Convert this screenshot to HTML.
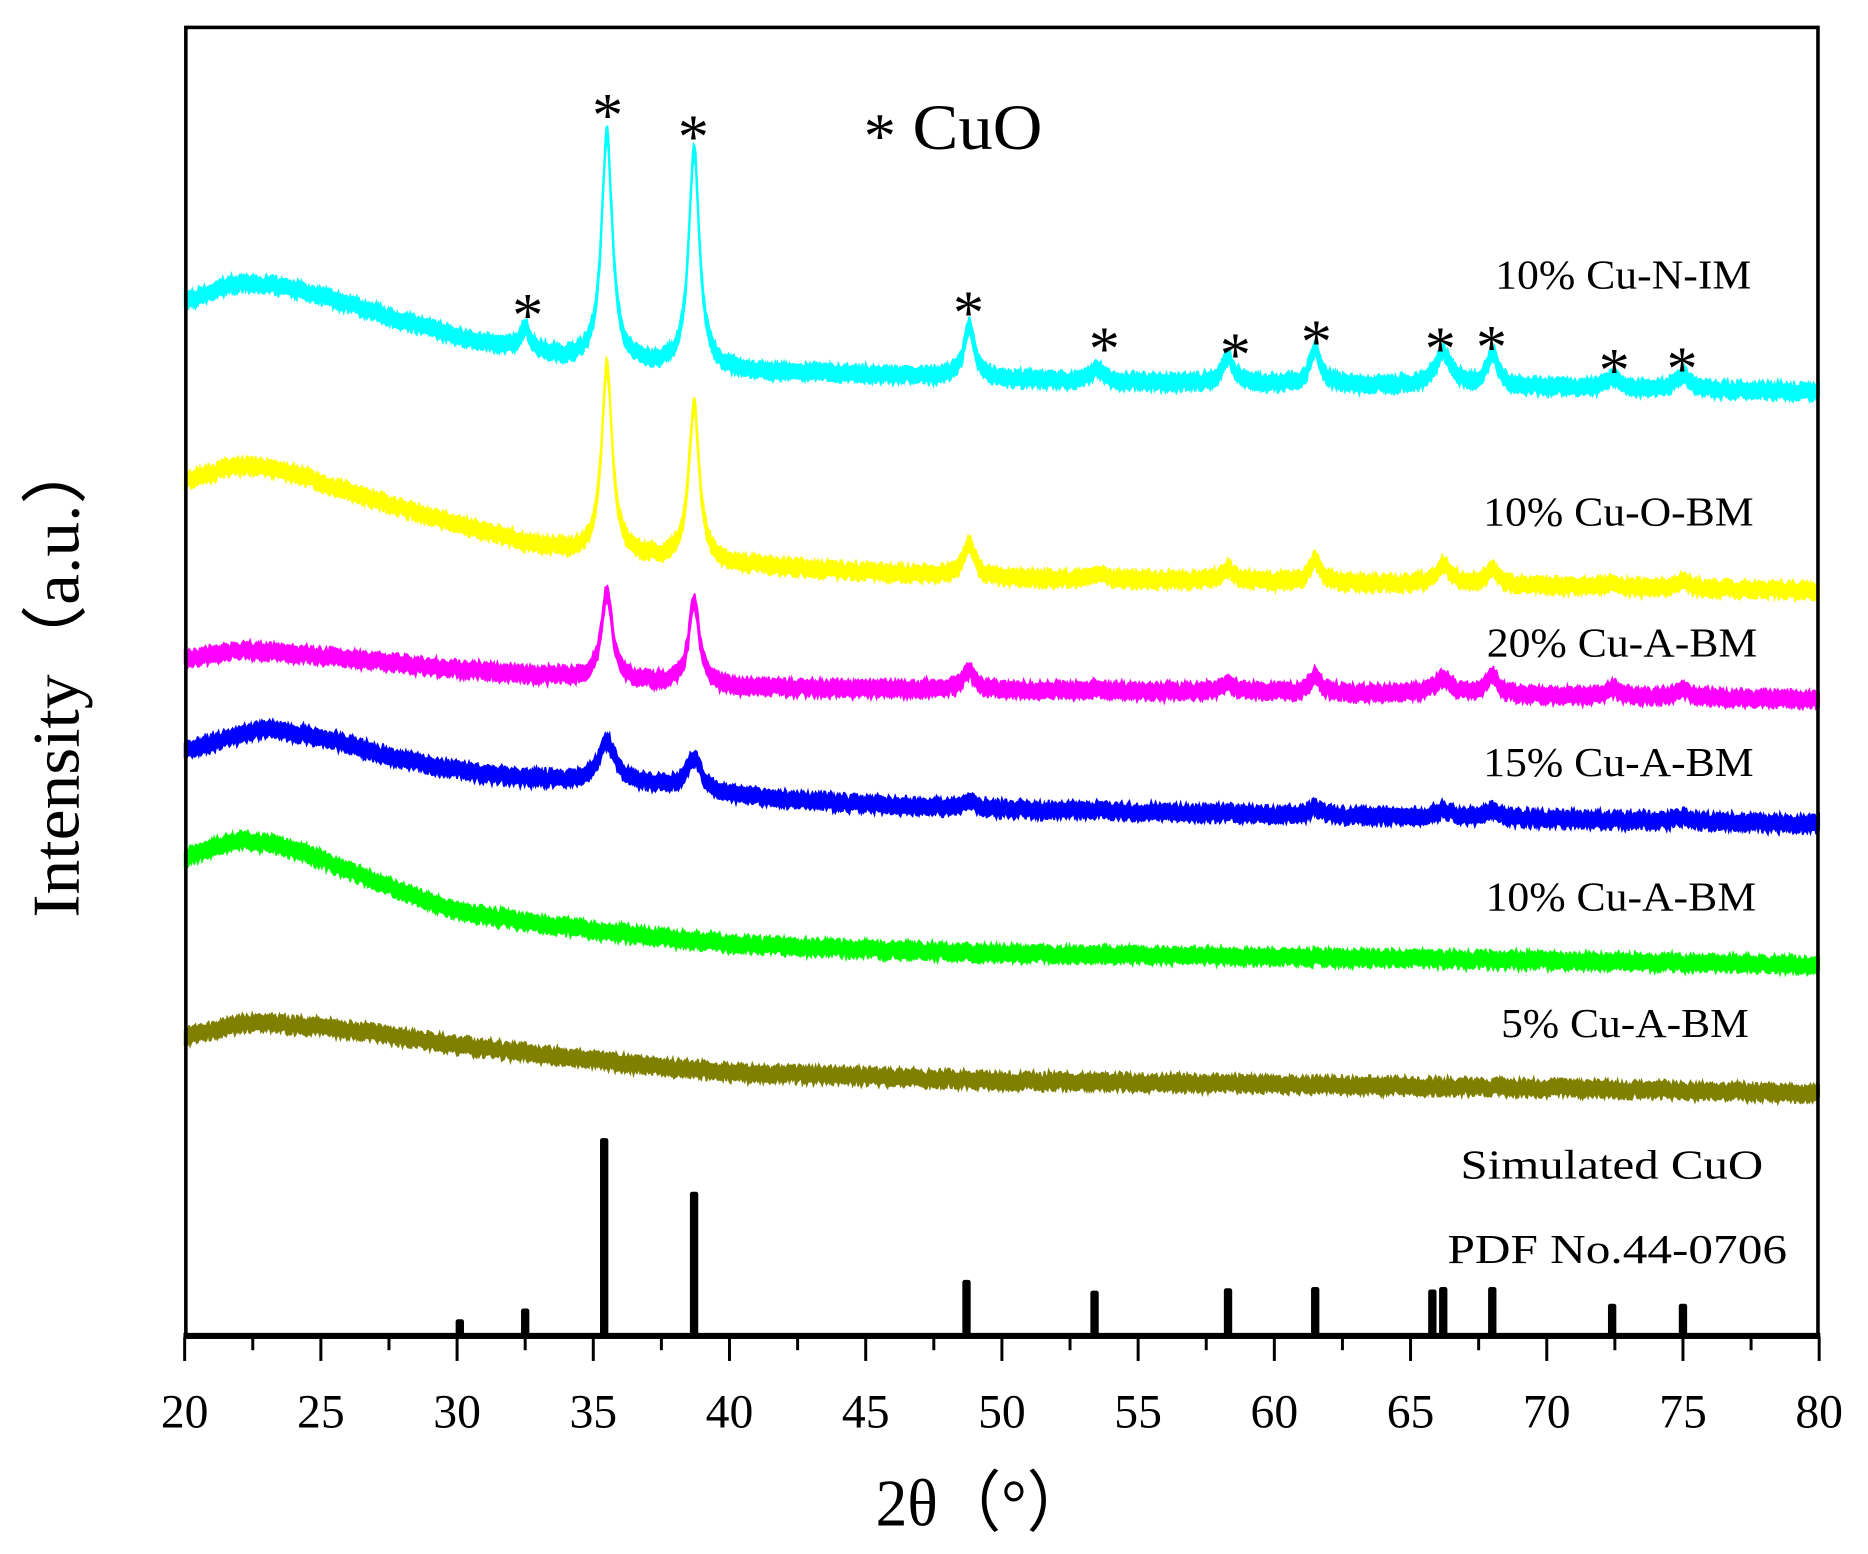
<!DOCTYPE html>
<html><head><meta charset="utf-8">
<style>html,body{margin:0;padding:0;background:#fff}svg{display:block}</style>
</head><body>
<svg id="s" width="1868" height="1554" viewBox="0 0 1568 1304" preserveAspectRatio="none" xmlns="http://www.w3.org/2000/svg" font-family="'Liberation Serif',serif">
<rect width="1568" height="1304" fill="#fff"/>
<g id="curves"></g>
<g id="sticks" fill="#000"></g>
<rect x="156" y="23" width="1370" height="1099" fill="none" stroke="#000" stroke-width="3"/>
<line x1="154" y1="1121" x2="1528" y2="1121" stroke="#000" stroke-width="5"/>
<g id="ticks" stroke="#000" stroke-width="2.5"></g>
<g font-size="40" text-anchor="middle" fill="#000" id="tl"></g>
<text x="735" y="1280" font-size="56" textLength="180" lengthAdjust="spacingAndGlyphs">2θ（°）</text>
<text transform="translate(66,770) rotate(-90)" font-size="56" textLength="405" lengthAdjust="spacingAndGlyphs">Intensity（a.u.）</text>
<g font-size="35" fill="#000">
<text x="1255" y="242" textLength="215" lengthAdjust="spacingAndGlyphs">10% Cu-N-IM</text>
<text x="1245" y="441" textLength="227" lengthAdjust="spacingAndGlyphs">10% Cu-O-BM</text>
<text x="1248" y="551" textLength="227" lengthAdjust="spacingAndGlyphs">20% Cu-A-BM</text>
<text x="1245" y="651" textLength="227" lengthAdjust="spacingAndGlyphs">15% Cu-A-BM</text>
<text x="1247" y="764" textLength="227" lengthAdjust="spacingAndGlyphs">10% Cu-A-BM</text>
<text x="1260" y="870" textLength="208" lengthAdjust="spacingAndGlyphs">5% Cu-A-BM</text>
<text x="1226" y="989" textLength="254" lengthAdjust="spacingAndGlyphs">Simulated CuO</text>
<text x="1215" y="1060" textLength="285" lengthAdjust="spacingAndGlyphs">PDF No.44-0706</text>
</g>
<text x="725" y="132" font-size="54">*</text>
<text x="766" y="125" font-size="54" textLength="109" lengthAdjust="spacingAndGlyphs">CuO</text>
<g font-size="52" text-anchor="middle" id="stars"></g>
</svg>
<script>
var NS="http://www.w3.org/2000/svg";
function X(d){return 155+(d-20)*22.867;}
function el(t,a,p){var e=document.createElementNS(NS,t);for(var k in a)e.setAttribute(k,a[k]);p.appendChild(e);return e;}
var tg=document.getElementById('ticks'),tl=document.getElementById('tl');
for(var d=20;d<=80;d+=2.5){var maj=(d%5==0);el('line',{x1:X(d),y1:1122,x2:X(d),y2:maj?1142:1133},tg);
 if(maj){var t=el('text',{x:X(d),y:1198},tl);t.textContent=d;}}
var st=[[30.1,1107],[32.5,1098],[35.4,955],[38.7,1000],[48.7,1074],[53.4,1083],[58.3,1081],[61.5,1080],[65.8,1082],[66.2,1080],[68.0,1080],[72.4,1094],[75.0,1094]];
var sg=document.getElementById('sticks');
st.forEach(function(s){el('rect',{x:X(s[0])-3.5,y:s[1],width:7,height:1122-s[1],rx:2},sg);});
var stars=[[443,262],[510,94],[582,112],[813,260],[927,290],[1037,295],[1105,284],[1209,290],[1252,289],[1355,308],[1412,307]];
var sr=document.getElementById('stars');
stars.forEach(function(s){var t=el('text',{x:s[0],y:s[1]+20},sr);t.textContent='*';});
var seed=12345;function rnd(){seed=(seed*16807)%2147483647;return seed/2147483647;}
function lin(pts,d){if(d<=pts[0][0])return pts[0][1];for(var i=0;i<pts.length-1;i++){if(d<=pts[i+1][0]){var a=pts[i],b=pts[i+1],t=(d-a[0])/(b[0]-a[0]);return a[1]+(b[1]-a[1])*t;}}return pts[pts.length-1][1];}
function interp(pts,d){var s=0,n=0;for(var k=-0.7;k<=0.7;k+=0.1){s+=lin(pts,d+k);n++;}return s/n;}
var peaksPos=[32.5,35.5,38.7,48.8,53.5,58.3,61.5,66.2,68.0,72.4,75.0];
var series=[
 {c:'#00ffff',b:[[19,262],[22,236],[24,242],[27,262],[30,283],[33,297],[35,305],[40,312],[45,314],[50,318],[55,321],[60,322],[70,325],[81,329]],p:[275,112,127,272,310,300,293,296,297,317,314],w:[.2,.26,.26,.25,.3,.27,.25,.38,.27,.3,.32]},
 {c:'#ffff00',b:[[19,412],[22,389],[24,397],[27,420],[30,440],[33,458],[35,466],[40,474],[45,480],[50,485],[60,488],[70,492],[81,496]],p:[457,307,342,455,482,477,470,475,477,490,487],w:[.2,.26,.26,.25,.3,.27,.25,.38,.27,.3,.32]},
 {c:'#ff00ff',b:[[19,558],[22,545],[25,550],[30,562],[35,570],[40,577],[50,579],[60,581],[70,584],[81,587]],p:[566,497,505,563,578,573,567,570,567,578,578],w:[.22,.26,.26,.27,.3,.3,.27,.42,.3,.3,.3]},
 {c:'#0000ff',b:[[19,637],[22.8,611],[25,618],[28,638],[31,650],[34,655],[36,655],[40,668],[45,675],[50,679],[60,684],[70,687],[81,692]],p:[653,622,637,672,680,681,678,680,681,688,686],w:[.3,.38,.38,.3,.3,.3,.3,.4,.3,.3,.3]},
 {c:'#00ff00',b:[[19,727],[22,704],[24,712],[27,740],[30,765],[33,775],[35,781],[40,792],[45,797],[50,800],[60,803],[70,806],[81,810]],p:null},
 {c:'#808000',b:[[19,875],[22.5,857],[26,864],[30,877],[35,890],[40,900],[45,903],[50,907],[60,910],[70,913],[81,918]],p:null}
];
var cg=document.getElementById('curves');
series.forEach(function(s){
 var top=[],bot=[];
 for(var d=20;d<=80.001;d+=0.04){
  var y=interp(s.b,d);
  if(s.p){for(var i=0;i<peaksPos.length;i++){var base=interp(s.b,peaksPos[i]);var h=base-s.p[i];var dx=(d-peaksPos[i])/s.w[i];y-=h/(1+dx*dx*1.2);}}
  var n=(rnd()-0.5)*5;
  top.push([X(d),y+n-5-rnd()*2]);bot.push([X(d),y+n+5+rnd()*2]);
 }
 var dstr='M'+top.map(function(p){return p[0].toFixed(1)+','+p[1].toFixed(1);}).join('L');
 dstr+='L'+bot.reverse().map(function(p){return p[0].toFixed(1)+','+p[1].toFixed(1);}).join('L')+'Z';
 el('path',{d:dstr,fill:s.c,stroke:s.c,'stroke-width':1.5},cg);
});
</script>
</body></html>
